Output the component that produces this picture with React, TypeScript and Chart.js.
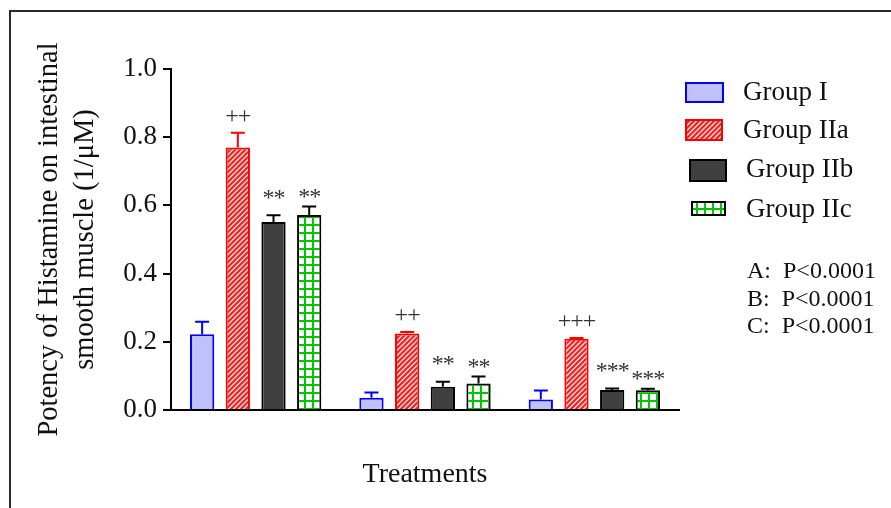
import React, { useEffect, useRef } from "react";
import { Chart, registerables } from "chart.js";

Chart.register(...registerables);

// ---------- data ----------
const categories = ["A", "B", "C"];
const seriesNames = ["Group I", "Group IIa", "Group IIb", "Group IIc"];
const groupI = [0.222, 0.036, 0.031];
const groupIIa = [0.77, 0.224, 0.209];
const groupIIb = [0.551, 0.068, 0.059];
const groupIIc = [0.572, 0.078, 0.058];
const errI = [0.037, 0.015, 0.026];
const errIIa = [0.043, 0.005, 0.002];
const errIIb = [0.02, 0.015, 0.004];
const errIIc = [0.025, 0.02, 0.004];
const marksI = ["", "", ""];
const marksIIa = ["++", "++", "+++"];
const marksIIb = ["**", "**", "***"];
const marksIIc = ["**", "**", "***"];
const yTicks = [0, 0.2, 0.4, 0.6, 0.8, 1.0];
const pValues = ["A:  P<0.0001", "B:  P<0.0001", "C:  P<0.0001"];
const yTitle = ["Potency of Histamine on intestinal", "smooth muscle (1/\u03BCM)"];
const xTitle = "Treatments";

const SERIF = "'Liberation Serif', 'Times New Roman', serif";
// vertical gap (px) between error-bar cap and the centre of the significance mark, per series
const markGap = [0, 17, 21, 13];

function makeHatch(): CanvasPattern | string {
  const c = document.createElement("canvas");
  c.width = 5;
  c.height = 5;
  const g = c.getContext("2d");
  if (!g) return "#ff8080";
  g.fillStyle = "#ffe0e0";
  g.fillRect(0, 0, 5, 5);
  g.strokeStyle = "#ff1818";
  g.lineWidth = 2;
  g.beginPath();
  g.moveTo(-1, 6);
  g.lineTo(6, -1);
  g.moveTo(-4, 4);
  g.lineTo(4, -4);
  g.moveTo(1, 9);
  g.lineTo(9, 1);
  g.stroke();
  const p = g.createPattern(c, "repeat");
  return p || "#ff8080";
}

function makeGrid(): CanvasPattern | string {
  const c = document.createElement("canvas");
  c.width = 8;
  c.height = 8;
  const g = c.getContext("2d");
  if (!g) return "#80ff80";
  g.fillStyle = "#ffffff";
  g.fillRect(0, 0, 8, 8);
  g.fillStyle = "#00c800";
  g.fillRect(0, 0, 8, 2);
  g.fillRect(0, 0, 2, 8);
  const p = g.createPattern(c, "repeat");
  return p || "#80ff80";
}

const framePlugin = {
  id: "frame",
  beforeDraw(chart: any) {
    const ctx = chart.ctx;
    ctx.save();
    ctx.fillStyle = "#ffffff";
    ctx.fillRect(0, 0, chart.width, chart.height);
    ctx.strokeStyle = "#2a2a2a";
    ctx.lineWidth = 2;
    ctx.beginPath();
    ctx.moveTo(10, chart.height);
    ctx.lineTo(10, 11);
    ctx.lineTo(chart.width, 11);
    ctx.stroke();
    ctx.restore();
  },
};

const errorPlugin = {
  id: "errbars",
  afterDatasetsDraw(chart: any) {
    const ctx = chart.ctx;
    const yScale = chart.scales.y;
    chart.data.datasets.forEach((ds: any, i: number) => {
      const meta = chart.getDatasetMeta(i);
      meta.data.forEach((bar: any, j: number) => {
        const v = ds.data[j];
        const e = ds.errors[j];
        const yTop = yScale.getPixelForValue(v + e);
        const yVal = yScale.getPixelForValue(v);
        ctx.save();
        ctx.strokeStyle = ds.borderColor;
        ctx.lineWidth = 2;
        ctx.beginPath();
        ctx.moveTo(bar.x, yVal);
        ctx.lineTo(bar.x, yTop);
        ctx.moveTo(bar.x - 7, yTop);
        ctx.lineTo(bar.x + 7, yTop);
        ctx.stroke();
        const mark = ds.marks[j];
        if (mark) {
          ctx.font = `24px ${SERIF}`;
          ctx.fillStyle = "#333333";
          ctx.textAlign = "center";
          ctx.textBaseline = "alphabetic";
          try {
            (ctx as any).letterSpacing = "-1px";
          } catch (err) {}
          const m = ctx.measureText(mark);
          const center = yTop - markGap[i];
          const base = center + (m.actualBoundingBoxAscent - m.actualBoundingBoxDescent) / 2;
          ctx.fillText(mark, bar.x, base);
        }
        ctx.restore();
      });
    });
  },
};

const legendBoxes = [
  { x: 686, y: 83, w: 37, h: 19, tx: 743, ty: 93 },
  { x: 686, y: 120, w: 36, h: 20, tx: 743, ty: 131 },
  { x: 690, y: 160, w: 36, h: 21, tx: 746, ty: 170 },
  { x: 692, y: 202, w: 33, h: 13, tx: 746, ty: 210 },
];

const legendPlugin = {
  id: "customLegend",
  afterDraw(chart: any) {
    const ctx = chart.ctx;
    ctx.save();
    chart.data.datasets.forEach((ds: any, i: number) => {
      const b = legendBoxes[i];
      ctx.fillStyle = ds.backgroundColor;
      ctx.fillRect(b.x, b.y, b.w, b.h);
      ctx.strokeStyle = ds.borderColor;
      ctx.lineWidth = 2;
      ctx.strokeRect(b.x, b.y, b.w, b.h);
      ctx.fillStyle = "#111111";
      ctx.font = `27px ${SERIF}`;
      ctx.textAlign = "left";
      ctx.textBaseline = "middle";
      ctx.fillText(ds.label, b.tx, b.ty);
    });
    ctx.font = `24px ${SERIF}`;
    ctx.fillStyle = "#111111";
    ctx.textAlign = "left";
    ctx.textBaseline = "middle";
    pValues.forEach((t, i) => {
      ctx.fillText(t, 747, 272 + i * 27.5);
    });
    ctx.restore();
  },
};

export default function App() {
  const ref = useRef<HTMLCanvasElement | null>(null);

  useEffect(() => {
    if (!ref.current) return;
    const hatch = makeHatch();
    const grid = makeGrid();
    const common = { barPercentage: 0.68, categoryPercentage: 0.843, borderWidth: 2 };
    const chart = new Chart(ref.current, {
      type: "bar",
      data: {
        labels: categories,
        datasets: [
          { label: seriesNames[0], data: groupI, errors: errI, marks: marksI, backgroundColor: "#c0c0fa", borderColor: "#0000ff", ...common },
          { label: seriesNames[1], data: groupIIa, errors: errIIa, marks: marksIIa, backgroundColor: hatch, borderColor: "#ff0000", ...common },
          { label: seriesNames[2], data: groupIIb, errors: errIIb, marks: marksIIb, backgroundColor: "#404040", borderColor: "#000000", ...common },
          { label: seriesNames[3], data: groupIIc, errors: errIIc, marks: marksIIc, backgroundColor: grid, borderColor: "#000000", ...common },
        ] as any,
      },
      options: {
        responsive: false,
        animation: false,
        devicePixelRatio: 1,
        layout: { padding: { left: 0, top: 69, right: 212, bottom: 0 } },
        plugins: { legend: { display: false }, tooltip: { enabled: false } },
        scales: {
          x: {
            grid: { display: false, drawTicks: false },
            border: { display: true, color: "#000000", width: 2 },
            ticks: { display: false },
            title: {
              display: true,
              text: xTitle,
              color: "#111111",
              font: { family: SERIF, size: 28 },
              padding: { top: 0, bottom: 17 },
            },
            afterFit: (s: any) => {
              s.height = 98;
            },
          },
          y: {
            min: 0,
            max: 1,
            afterBuildTicks: (s: any) => {
              s.ticks = yTicks.map((v) => ({ value: v }));
            },
            ticks: {
              callback: (v: any) => Number(v).toFixed(1),
              color: "#111111",
              font: { family: SERIF, size: 27 },
              padding: 6,
            },
            grid: { drawOnChartArea: false, drawTicks: true, tickLength: 8, color: "#000000", lineWidth: 2 },
            border: { display: true, color: "#000000", width: 2 },
            title: {
              display: true,
              text: yTitle,
              color: "#111111",
              font: { family: SERIF, size: 28.5, lineHeight: 1.25 },
              padding: { top: 32, bottom: 0 },
            },
            afterFit: (s: any) => {
              s.width = 171;
            },
          },
        },
      } as any,
      plugins: [framePlugin, errorPlugin, legendPlugin],
    });
    return () => chart.destroy();
  }, []);

  return (
    <div style={{ position: "fixed", left: 0, top: 0, width: 891, height: 508, background: "#fff" }}>
      <canvas ref={ref} width={891} height={508} style={{ display: "block", width: 891, height: 508 }} />
    </div>
  );
}
